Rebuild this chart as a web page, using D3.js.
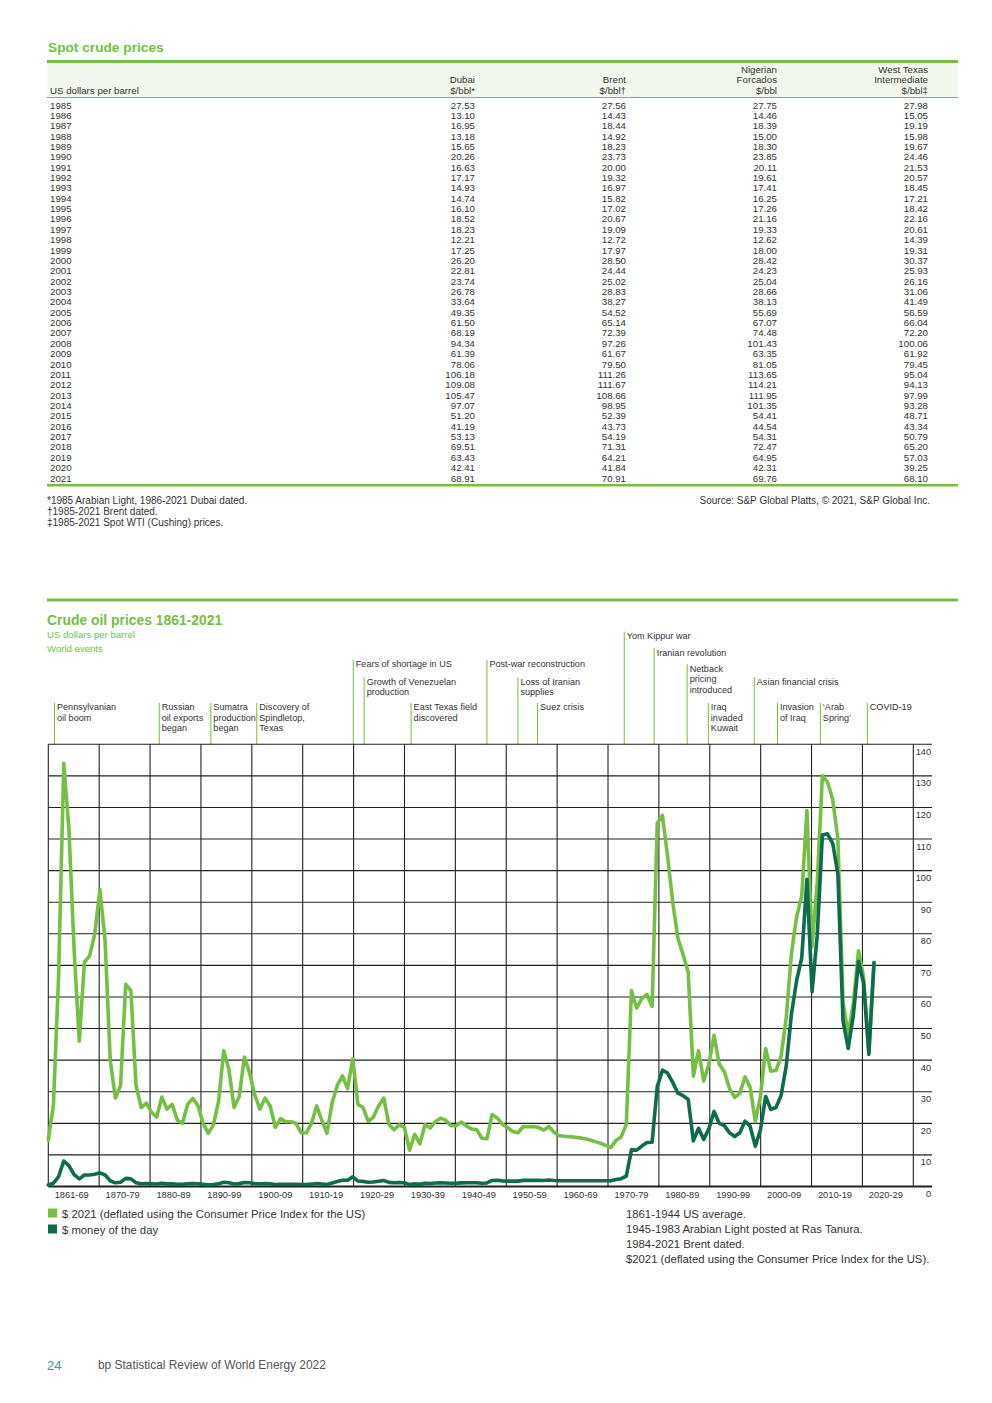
<!DOCTYPE html>
<html><head><meta charset="utf-8">
<script src="https://cdn.jsdelivr.net/npm/d3@7"></script>
<style>
body{margin:0;background:#fff}
svg text{font-family:"Liberation Sans",Arial,Helvetica,sans-serif}
</style>
</head><body>
<svg id="page" width="992" height="1403"></svg>
<script>
// ---------------- Table data ----------------
const tableYears = d3.range(1985, 2022);
const dubai = [27.53,13.10,16.95,13.18,15.65,20.26,16.63,17.17,14.93,14.74,16.10,18.52,18.23,12.21,17.25,26.20,22.81,23.74,26.78,33.64,49.35,61.50,68.19,94.34,61.39,78.06,106.18,109.08,105.47,97.07,51.20,41.19,53.13,69.51,63.43,42.41,68.91];
const brent = [27.56,14.43,18.44,14.92,18.23,23.73,20.00,19.32,16.97,15.82,17.02,20.67,19.09,12.72,17.97,28.50,24.44,25.02,28.83,38.27,54.52,65.14,72.39,97.26,61.67,79.50,111.26,111.67,108.66,98.95,52.39,43.73,54.19,71.31,64.21,41.84,70.91];
const forcados = [27.75,14.46,18.39,15.00,18.30,23.85,20.11,19.61,17.41,16.25,17.26,21.16,19.33,12.62,18.00,28.42,24.23,25.04,28.66,38.13,55.69,67.07,74.48,101.43,63.35,81.05,113.65,114.21,111.95,101.35,54.41,44.54,54.31,72.47,64.95,42.31,69.76];
const wti = [27.98,15.05,19.19,15.98,19.67,24.46,21.53,20.57,18.45,17.21,18.42,22.16,20.61,14.39,19.31,30.37,25.93,26.16,31.06,41.49,56.59,66.04,72.20,100.06,61.92,79.45,95.04,94.13,97.99,93.28,48.71,43.34,50.79,65.20,57.03,39.25,68.10];
const columnHeads = [["Dubai","$/bbl*"],["Brent","$/bbl\u2020"],["Nigerian","Forcados","$/bbl"],["West Texas","Intermediate","$/bbl\u2021"]];
const footnotes = ["*1985 Arabian Light, 1986-2021 Dubai dated.","\u20201985-2021 Brent dated.","\u20211985-2021 Spot WTI (Cushing) prices."];

// ---------------- Chart data ----------------
const chartYears = d3.range(1861, 2022);
const moneyOfDay = [
 0.49,1.05,3.15,8.06,6.59,3.74,2.41,3.63,3.64,3.86,
 4.34,3.64,1.83,1.17,1.35,2.56,2.42,1.19,0.86,0.95,
 0.86,0.78,1.00,0.84,0.88,0.71,0.67,0.88,0.94,0.87,
 0.67,0.56,0.64,0.84,1.36,1.18,0.79,0.91,1.29,1.19,
 0.96,0.80,0.94,0.86,0.62,0.73,0.72,0.72,0.70,0.61,
 0.61,0.74,0.95,0.81,0.64,1.10,1.56,1.98,2.01,3.07,
 1.73,1.61,1.34,1.43,1.68,1.88,1.30,1.17,1.27,1.19,
 0.65,0.87,0.67,1.00,0.97,1.09,1.18,1.13,1.02,1.02,
 1.14,1.19,1.20,1.21,1.05,1.12,1.90,1.99,1.78,1.71,
 1.71,1.71,1.93,1.93,1.93,1.93,1.90,2.08,1.90,1.80,
 1.80,1.80,1.80,1.80,1.80,1.80,1.80,1.80,1.80,1.80,
 2.24,2.48,3.29,11.58,11.53,12.80,13.92,14.02,31.61,36.83,
 35.93,32.97,29.55,28.78,27.56,14.43,18.44,14.92,18.23,23.73,
 20.00,19.32,16.97,15.82,17.02,20.67,19.09,12.72,17.97,28.50,
 24.44,25.02,28.83,38.27,54.52,65.14,72.39,97.26,61.67,79.50,
 111.26,111.67,108.66,98.95,52.39,43.73,54.19,71.31,64.21,41.84,
 70.91];
const dollars2021 = [
 14.7,26,67,134,113,75,46,71,73,80,
 94,78,40,28,32,64,62,32,25,26.4,
 23.5,22,28.3,24.5,26,21,20,26,27.9,25.6,
 20,16.8,19.5,27,43,37,25,28.5,41,36,
 29,24.5,28,25.5,18.7,21.5,20.5,20.5,20,17,
 17,20,25.5,21,16.8,26.5,32,35,31,40.5,
 26,25,20.6,22,25.5,28,19.7,18,19.5,18.7,
 11.5,16.5,13.5,19.6,18.5,20.6,21.6,21,19.3,19.2,
 20.4,19.2,18.2,18,15.3,15.1,22.8,21.7,19.7,18.7,
 17.4,17,19,18.9,19,18.7,17.8,19,17.2,16.1,
 15.9,15.8,15.6,15.4,15.1,14.7,14.2,13.7,13,12.3,
 14.6,15.7,19.6,62,56.5,59.5,60.8,57,115,117.5,
 104.6,90,78.6,73.4,67.8,34.9,43,33.4,38.8,47.9,
 38.8,36.3,31,28.2,29.5,34.7,31.4,20.6,28.5,43.7,
 36.5,36.7,41.3,53.5,73.7,85.3,92,119,76,96.2,
 130,128,122.5,110,58.3,48.1,58.1,74.6,66.2,42.6,
 70.91];
const decadeLabels = ["1861-69","1870-79","1880-89","1890-99","1900-09","1910-19","1920-29","1930-39","1940-49","1950-59","1960-69","1970-79","1980-89","1990-99","2000-09","2010-19","2020-29"];
const yTicks = [0,10,20,30,40,50,60,70,80,90,100,110,120,130,140];
const eventLabels = [["Pennsylvanian","oil boom"],["Russian","oil exports","began"],["Sumatra","production","began"],["Discovery of","Spindletop,","Texas"],["Fears of shortage in US"],["Growth of Venezuelan","production"],["East Texas field","discovered"],["Post-war reconstruction"],["Loss of Iranian","supplies"],["Suez crisis"],["Yom Kippur war"],["Iranian revolution"],["Netback","pricing","introduced"],["Iraq","invaded","Kuwait"],["Asian financial crisis"],["Invasion","of Iraq"],["\u2018Arab","Spring\u2019"],["COVID-19"]];
const eventYears = [1862.2,1882.5,1892.5,1901.4,1920.1,1922.2,1931.3,1946.0,1952.0,1955.8,1972.6,1978.4,1984.8,1988.9,1997.8,2002.3,2010.6,2019.7];
const eventTiers = [5,5,5,5,2,4,5,2,4,5,0,1,3,5,4,5,5,5];
const legendLabels = ["$ 2021 (deflated using the Consumer Price Index for the US)","$ money of the day"];
const chartNotes = ["1861-1944 US average.","1945-1983 Arabian Light posted at Ras Tanura.","1984-2021 Brent dated.","$2021 (deflated using the Consumer Price Index for the US)."];

(function(){
// ---------------- Styles ----------------
const GREEN = "#74bf44", DARK = "#0d6b4e", TEXT = "#333", RULE = "#222";
const svg = d3.select("#page");

// ================= TABLE =================
svg.append("text").attr("x",48).attr("y",52).attr("fill",GREEN).attr("font-size",13.7).attr("font-weight","bold").text("Spot crude prices");
svg.append("rect").attr("x",47).attr("y",63).attr("width",911).attr("height",34).attr("fill","#f3f8ee");
svg.append("rect").attr("x",47).attr("y",60).attr("width",911).attr("height",3).attr("fill",GREEN);
svg.append("rect").attr("x",47).attr("y",97).attr("width",911).attr("height",1).attr("fill",GREEN);
svg.append("rect").attr("x",47).attr("y",484).attr("width",911).attr("height",2.5).attr("fill",GREEN);

const colRight = d3.scaleOrdinal().domain([0,1,2,3]).range([475,626,777,928]);
const TFS = 9.7;
svg.append("text").attr("x",50).attr("y",94).attr("font-size",TFS).attr("fill",TEXT).text("US dollars per barrel");
columnHeads.forEach((lines,ci)=>{
  lines.forEach((t,li)=>{
    svg.append("text").attr("x",colRight(ci)).attr("y",93.5-(lines.length-1-li)*10.5)
      .attr("text-anchor","end").attr("font-size",TFS).attr("fill",TEXT).text(t);
  });
});
const rowY = d3.scaleLinear().domain([1985,2021]).range([105,478]);
const cols = [dubai,brent,forcados,wti];
const tg = svg.append("g").attr("font-size",TFS).attr("fill",TEXT);
tableYears.forEach((yr,i)=>{
  tg.append("text").attr("x",50).attr("y",rowY(yr)+3.5).text(yr);
  cols.forEach((c,ci)=>{
    tg.append("text").attr("x",colRight(ci)).attr("y",rowY(yr)+3.5).attr("text-anchor","end").text(c[i].toFixed(2));
  });
});
footnotes.forEach((t,i)=>{
  svg.append("text").attr("x",47).attr("y",503.5+i*11).attr("font-size",10).attr("fill",TEXT).text(t);
});
svg.append("text").attr("x",930).attr("y",503.5).attr("text-anchor","end").attr("font-size",10).attr("fill",TEXT).text("Source: S&P Global Platts, \u00a9 2021, S&P Global Inc.");

// ================= CHART =================
svg.append("rect").attr("x",47).attr("y",598.5).attr("width",911).attr("height",3).attr("fill",GREEN);
svg.append("text").attr("x",47).attr("y",625).attr("fill",GREEN).attr("font-size",13.9).attr("font-weight","bold").text("Crude oil prices 1861-2021");
svg.append("text").attr("x",47).attr("y",638).attr("fill",GREEN).attr("font-size",9.6).text("US dollars per barrel");
svg.append("text").attr("x",47).attr("y",652).attr("fill",GREEN).attr("font-size",9.6).text("World events");

const pLeft = 48.3, pRight = 913.3, gridRight = 932, pTop = 744.3, pBottom = 1186.5;
const xDec = d3.scaleBand().domain(decadeLabels).range([pLeft, pRight]).paddingInner(0).paddingOuter(0);
const xYear = d3.scaleLinear().domain([1861,2021]).range([48.3, 874]);
const y = d3.scaleLinear().domain([0,140]).range([pBottom, pTop]);

// events
const tierTop = [631.7, 648.3, 660, 664.3, 677.3, 703];
const eg = svg.append("g");
eventLabels.forEach((lines,i)=>{
  const ex = xYear(eventYears[i]);
  const t0 = tierTop[eventTiers[i]];
  eg.append("line").attr("x1",ex).attr("x2",ex).attr("y1",t0).attr("y2",pTop)
    .attr("stroke",GREEN).attr("stroke-width",1);
  lines.forEach((t,li)=>{
    eg.append("text").attr("x",ex+2.5).attr("y",t0+7.3+li*10.5).attr("font-size",9.1).attr("fill",TEXT).text(t);
  });
});

// grid
const gg = svg.append("g");
yTicks.filter(v=>v>0).forEach(v=>{
  gg.append("line").attr("x1",pLeft).attr("x2",gridRight).attr("y1",y(v)).attr("y2",y(v)).attr("stroke",RULE).attr("stroke-width",1.1);
});
decadeLabels.forEach(d=>{
  gg.append("line").attr("x1",xDec(d)).attr("x2",xDec(d)).attr("y1",pTop).attr("y2",pBottom).attr("stroke",RULE).attr("stroke-width",1.1);
});
gg.append("line").attr("x1",pRight).attr("x2",pRight).attr("y1",pTop).attr("y2",pBottom).attr("stroke",RULE).attr("stroke-width",1.1);
gg.append("line").attr("x1",pLeft).attr("x2",gridRight).attr("y1",pBottom).attr("y2",pBottom).attr("stroke",RULE).attr("stroke-width",2);

// y labels
yTicks.forEach(v=>{
  svg.append("text").attr("x",931).attr("y",y(v)+10.5).attr("text-anchor","end").attr("font-size",9.2).attr("fill",TEXT).text(v);
});
// x labels
decadeLabels.forEach(d=>{
  svg.append("text").attr("x",xDec(d)+xDec.bandwidth()/2-2).attr("y",1197.5).attr("text-anchor","middle").attr("font-size",9.3).attr("fill",TEXT).text(d);
});

// lines
const realSeries = chartYears.map((yr,i)=>({year:yr, v:dollars2021[i]}));
const nomSeries = chartYears.map((yr,i)=>({year:yr, v:moneyOfDay[i]}));
const line = d3.line().x(d=>xYear(d.year)).y(d=>y(d.v));
svg.append("path").datum(realSeries).attr("d",line).attr("fill","none").attr("stroke",GREEN).attr("stroke-width",3.6).attr("stroke-linejoin","round").attr("stroke-linecap","round");
svg.append("path").datum(nomSeries).attr("d",line).attr("fill","none").attr("stroke",DARK).attr("stroke-width",3.6).attr("stroke-linejoin","round").attr("stroke-linecap","round");

// legend
[GREEN,DARK].forEach((c,i)=>{
  svg.append("rect").attr("x",48).attr("y",1208.5+i*16).attr("width",9).attr("height",9).attr("fill",c);
  svg.append("text").attr("x",62).attr("y",1217.5+i*16).attr("font-size",11.3).attr("fill",TEXT).text(legendLabels[i]);
});
chartNotes.forEach((t,i)=>{
  svg.append("text").attr("x",626).attr("y",1218+i*15).attr("font-size",11.3).attr("fill",TEXT).text(t);
});

// footer
svg.append("text").attr("x",47).attr("y",1370).attr("font-size",13).attr("fill","#3a9b87").text("24");
svg.append("text").attr("x",98).attr("y",1369).attr("font-size",11.9).attr("fill","#555").text("bp Statistical Review of World Energy 2022");
})();
</script>
</body></html>
